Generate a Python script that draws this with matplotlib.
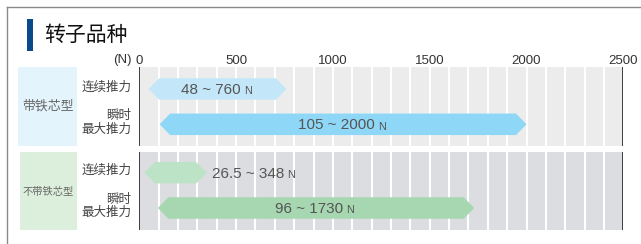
import matplotlib
matplotlib.use("Agg")
import matplotlib.pyplot as plt
from matplotlib.patches import Polygon, Rectangle
from matplotlib.lines import Line2D
import matplotlib.transforms as mtransforms

# ---------------- data ----------------
title = "转子品种"
unit_label = "(N)"
ticks = [0, 500, 1000, 1500, 2000, 2500]
groups = ["带铁芯型", "不带铁芯型"]
row_labels = ["连续推力", "瞬时\n最大推力", "连续推力", "瞬时\n最大推力"]
low_values = [48, 105, 26.5, 96]
high_values = [760, 2000, 348, 1730]
value_texts = ["48 ~ 760", "105 ~ 2000", "26.5 ~ 348", "96 ~ 1730"]
label_inside = [True, True, False, True]
bar_colors = ["#c3e7f9", "#8fd7f6", "#bde3c6", "#a6d7b1"]

plt.rcParams['font.family'] = ['Liberation Sans', 'Noto Sans CJK SC', 'DejaVu Sans']

W, H = 641, 244
fig = plt.figure(figsize=(W / 100, H / 100), dpi=100)

def fx(px):
    return px / W

def fy(py):
    return 1 - py / H

# layout (pixels)
ax_l, ax_r = 139.3, 623.3
ax_t, ax_b = 66.7, 229.7
ax = fig.add_axes([fx(ax_l), fy(ax_b), fx(ax_r) - fx(ax_l), fy(ax_t) - fy(ax_b)])
xmax = 2500
ax.set_xlim(0, xmax)
ax.set_ylim(ax_b, ax_t)
ax.axis('off')

px_per_unit = (ax_r - ax_l) / xmax

panels = [(66.7, 146.0, "#ececec", "#e4f4fc", 18.0), (152.0, 229.7, "#dcdde0", "#dcefdc", 20.0)]
for (top, bot, bg, cat_bg, cat_l) in panels:
    ax.add_patch(Rectangle((0, top), xmax, bot - top, facecolor=bg, edgecolor='none', zorder=0))
    for g in range(100, xmax, 100):
        ax.plot([g, g], [top, bot], color='white', lw=1.5, zorder=1, solid_capstyle='butt')
    ax.plot([0, 0], [top, bot], color='#222222', lw=1.2, zorder=3, solid_capstyle='butt')
    ax.plot([xmax, xmax], [top, bot], color='#222222', lw=1.2, zorder=3, solid_capstyle='butt')
    # category box
    fig.patches.append(Rectangle((fx(cat_l), fy(bot)), fx(76.7) - fx(cat_l), fy(top) - fy(bot),
                                 transform=fig.transFigure, facecolor=cat_bg, edgecolor='none'))

row_y = [89.0, 124.3, 172.7, 208.0]
bar_h = 21.5
inset = 10.5 / px_per_unit

for i in range(4):
    lo, hi, yc = low_values[i], high_values[i], row_y[i]
    pts = [(lo, yc), (lo + inset, yc - bar_h / 2), (hi - inset, yc - bar_h / 2),
           (hi, yc), (hi - inset, yc + bar_h / 2), (lo + inset, yc + bar_h / 2)]
    ax.add_patch(Polygon(pts, closed=True, facecolor=bar_colors[i], edgecolor='none', zorder=2))
    if label_inside[i]:
        cx = (lo + hi) / 2
        off = mtransforms.offset_copy(ax.transData, fig=fig, x=-7, y=0, units='dots')
        t = ax.text(cx, yc + 1, value_texts[i], transform=off, ha='center', va='center',
                    fontsize=11, color='#555555', zorder=4)
    else:
        off = mtransforms.offset_copy(ax.transData, fig=fig, x=5, y=0, units='dots')
        t = ax.text(hi, yc + 1, value_texts[i], transform=off, ha='left', va='center',
                    fontsize=11, color='#555555', zorder=4)
    ax.annotate("N", xy=(1, 0), xycoords=t, xytext=(2.5, 0.5), textcoords='offset points',
                ha='left', va='bottom', fontsize=7.8, color='#555555', zorder=4)

# row labels
row_lab_y = [87.5, 122.5, 170.5, 206.0]
for i in range(4):
    fig.text(fx(131.5), fy(row_lab_y[i]), row_labels[i], ha='right', va='center',
             fontsize=9, color='#444444', linespacing=1.0, family=['Noto Sans CJK SC'])

# group labels
fig.text(fx(48), fy(106.5), groups[0], ha='center', va='center', fontsize=9.3,
         color='#666666', family=['Noto Sans CJK SC'])
fig.text(fx(48), fy(191.5), groups[1], ha='center', va='center', fontsize=7.4,
         color='#666666', family=['Noto Sans CJK SC'])

# ticks
for tk in ticks:
    ax.text(tk, 60.5, str(tk), ha='center', va='center', fontsize=9.5, color='#333333',
            clip_on=False)
fig.text(fx(131.5), fy(60.5), unit_label, ha='right', va='center', fontsize=9.5, color='#333333')

# title
fig.patches.append(Rectangle((fx(26.7), fy(50.7)), fx(33.3) - fx(26.7), fy(19) - fy(50.7),
                             transform=fig.transFigure, facecolor='#0a4a8c', edgecolor='none'))
fig.text(fx(44.5), fy(34.5), title, ha='left', va='center', fontsize=15, color='#111111',
         family=['Noto Sans CJK SC'], fontweight='medium')

# border
fig.add_artist(Line2D([fx(7), fx(641)], [fy(6.5), fy(6.5)], transform=fig.transFigure,
                      color='#8a8a8a', lw=1.0))
fig.add_artist(Line2D([fx(7), fx(7)], [fy(6.5), fy(244)], transform=fig.transFigure,
                      color='#8a8a8a', lw=1.0))

fig.savefig("out.png", dpi=100)
